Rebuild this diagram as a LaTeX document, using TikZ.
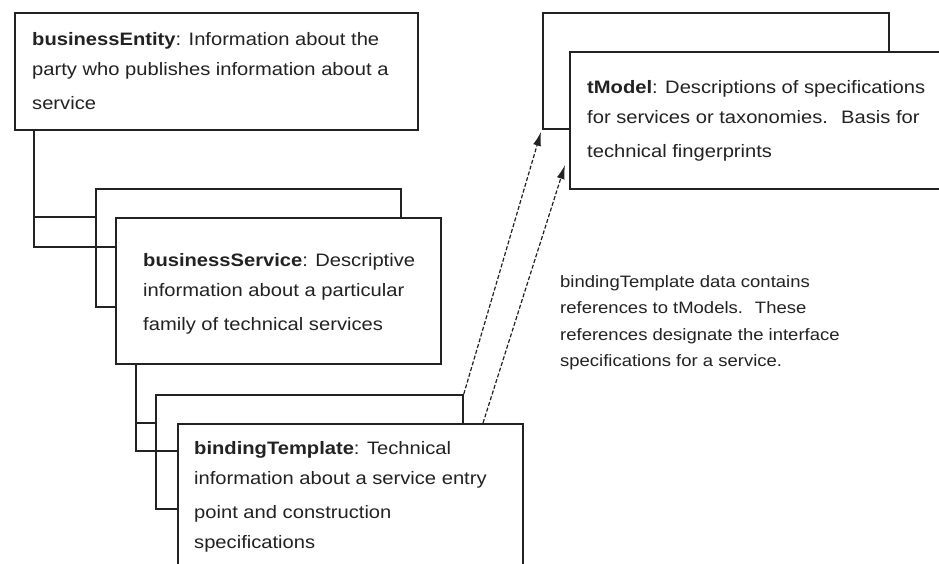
\documentclass[tikz,border=0pt]{standalone}
\usepackage{fontspec}
\usetikzlibrary{arrows.meta,calc}
\newfontfamily\dfont[FakeStretch=1.12]{Liberation Sans}
\definecolor{ink}{RGB}{34,34,34}
\begin{document}
\begin{tikzpicture}[x=1pt,y=-1pt,
  card/.style={draw=ink,line width=1.8pt,rectangle,inner sep=0pt,anchor=north west},
  backcard/.style={card},
  frontcard/.style={card,fill=white},
  conn/.style={draw=ink,line width=1.8pt},
  txt/.style={anchor=north west,inner sep=0pt,align=left,text=ink,font=\dfont\fontsize{18}{30}\selectfont},
  note/.style={anchor=north west,inner sep=0pt,align=left,text=ink,font=\dfont\fontsize{16.5}{26.5}\selectfont},
  ref/.style={draw=ink,line width=1.2pt,dash pattern=on 4pt off 2pt,-{Latex[length=14pt,width=8pt]}}]
\useasboundingbox[fill=white] (0,0) rectangle (939,564);
% businessEntity
\node[frontcard,minimum width=403pt,minimum height=117pt] (BE) at (14,12) {};
% back cards
\node[backcard,minimum width=305pt,minimum height=118pt] (BSb) at (95,188) {};
\node[backcard,minimum width=307pt,minimum height=114pt] (BTb) at (155,394) {};
\node[backcard,minimum width=346pt,minimum height=116pt] (TMb) at (542,12) {};
% connectors
\coordinate (BEd) at ([xshift=20pt]BE.south west);
\node[frontcard,draw=none,fill=none,minimum width=325pt,minimum height=146pt] (BSf0) at (115,217) {};
\draw[conn] (BEd) |- ([yshift=-30pt]BSf0.north west);
\draw[conn] (BEd |- BSf0.north west) -- (BSb.west |- BSf0.north west);
% businessService front
\node[frontcard,minimum width=325pt,minimum height=146pt] (BSf) at (115,217) {};
\coordinate (BSd) at ([xshift=21pt]BSf.south west);
\node[frontcard,draw=none,fill=none,minimum width=345pt,minimum height=152pt] (BTf0) at (177,423) {};
\draw[conn] (BSd) |- ([yshift=-28pt]BTf0.north west);
\draw[conn] (BSd |- BTf0.north west) -- (BTb.west |- BTf0.north west);
% bindingTemplate front
\node[frontcard,minimum width=345pt,minimum height=152pt] (BTf) at (177,423) {};
% tModel front
\node[frontcard,minimum width=381pt,minimum height=137pt] (TMf) at (569,51) {};
% texts
\node[txt] (BEt) at (32,32) {\textbf{businessEntity}: Information about the\\ party who publishes information about a\\[4pt] service};
\node[txt] (BSt) at (143,253) {\textbf{businessService}: Descriptive\\ information about a particular\\[4pt] family of technical services};
\node[txt] (BTt) at (194,441) {\textbf{bindingTemplate}: Technical\\ information about a service entry\\[4pt] point and construction\\ specifications};
\node[txt] (TMt) at (587,80) {\textbf{tModel}: Descriptions of specifications\\ for services or taxonomies.~ Basis for\\[4pt] technical fingerprints};
\node[note] (NT) at (560,275) {bindingTemplate data contains\\ references to tModels.~ These\\ references designate the interface\\ specifications for a service.};
% references
\draw[ref] (BTb.north east) -- ([shift={(-1,2)}]TMb.south west);
\draw[ref] ([xshift=306pt]BTf.north west) -- ([shift={(-4,114)}]TMf.north west);
\end{tikzpicture}
\end{document}
